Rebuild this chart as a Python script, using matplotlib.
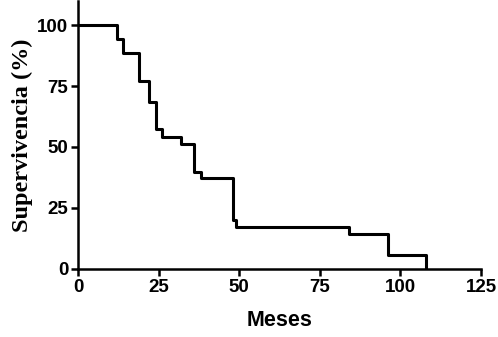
import matplotlib
matplotlib.use('Agg')
import matplotlib.pyplot as plt

# Kaplan-Meier survival curve
meses = [0, 12, 14, 19, 22, 24, 26, 32, 36, 38, 48, 49, 84, 96, 108]
supervivencia = [100, 94.1, 88.6, 77.2, 68.6, 57.2, 54.2, 51.2, 39.8, 37.2, 20.1, 17.3, 14.2, 5.7, 0]

xticks = [0, 25, 50, 75, 100, 125]
yticks = [0, 25, 50, 75, 100]

fig = plt.figure(figsize=(4.98, 3.37), dpi=100)
ax = fig.add_axes([0.157, 0.202, 0.809, 0.796])

ax.plot(meses, supervivencia, drawstyle='steps-post', color='black', linewidth=2.2)

ax.set_xlim(0, 125)
ax.set_ylim(0, 110)
ax.set_xticks(xticks)
ax.set_yticks(yticks)

for side in ['top', 'right']:
    ax.spines[side].set_visible(False)
for side in ['left', 'bottom']:
    ax.spines[side].set_linewidth(1.8)
ax.tick_params(width=1.8, length=5, labelsize=13.5, pad=2)
for lbl in ax.get_xticklabels() + ax.get_yticklabels():
    lbl.set_fontfamily('Liberation Sans')
    lbl.set_fontweight('bold')

ax.set_xlabel('Meses', fontsize=15.5, fontweight='bold', family='Liberation Sans', labelpad=10)
ax.set_ylabel('Supervivencia (%)', fontsize=17.5, fontweight='bold', family='Liberation Serif', labelpad=3)

fig.savefig('out.png', dpi=100)
